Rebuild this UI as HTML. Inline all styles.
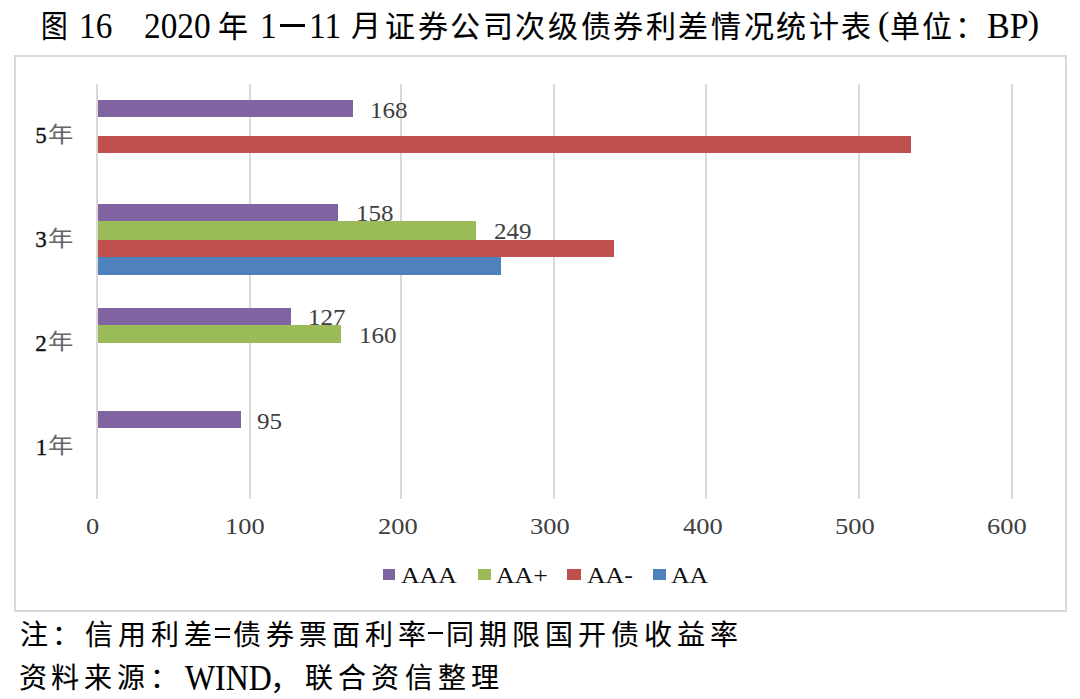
<!DOCTYPE html>
<html lang="zh-CN"><head><meta charset="utf-8">
<style>
html,body{margin:0;padding:0;background:#fff;}
body{width:1080px;height:699px;position:relative;overflow:hidden;font-family:"Liberation Serif",serif;}
div{position:absolute;white-space:nowrap;line-height:1;}
.frame{left:14px;top:55px;width:1049px;height:553px;border:2px solid #d9d9d9;}
.g{top:84px;height:415px;width:2px;background:#d9d9d9;}
.bar{left:98px;height:18px;}
.p{background:#8064a2}.gr{background:#9bbb59}.r{background:#c0504d}.b{background:#4f81bd}
.lbl{font-size:23px;color:#404040;transform:scaleX(1.09);transform-origin:0 0;}
.ax{font-size:23px;color:#404040;top:514.7px;transform:scaleX(1.15);transform-origin:0 0;}
.cat{font-size:23px;color:#111;-webkit-text-stroke:.35px #111;}
.cy{left:48px;font-size:22px;color:#666;transform:scaleX(1.15);transform-origin:0 0;}
.leg{top:564px;font-size:23px;color:#111;transform:scaleX(1.12);transform-origin:0 0;}
.sq{top:569.2px;height:11.2px;}
.tc{font-size:32px;color:#000;-webkit-text-stroke:.12px #000;}
.td{font-size:35px;color:#000;transform:scaleX(.95);transform-origin:0 0;top:9px}
.n{font-size:30px;color:#000;-webkit-text-stroke:.12px #000;}
</style></head><body>
<!-- title -->
<div class="tc" style="left:41px;top:11px;font-size:31px;transform:scaleX(.86);transform-origin:0 0">图</div>
<div class="td" style="left:78.5px">16</div>
<div class="td" style="left:144px">2020</div>
<div class="tc" style="left:218.4px;top:12px;font-size:30px">年</div>
<div class="td" style="left:260px">1</div>
<div style="left:280px;top:24px;width:25px;height:3px;background:#000"></div>
<div class="td" style="left:309px">11</div>
<div class="tc" style="left:350.8px;top:11.4px;font-size:30px">月</div>
<div class="tc" style="left:385px;top:12px;font-size:30px;letter-spacing:2.6px">证券公司次级债券利差情况统计表</div>
<div class="tc" style="left:877.9px;top:6.7px;font-size:34px">(</div>
<div class="tc" style="left:889.5px;top:12px;font-size:30px;letter-spacing:2.5px">单位：</div>
<div class="tc" style="left:986.5px;top:9px;font-size:35px;transform:scaleX(.97);transform-origin:0 0">BP</div>
<div class="tc" style="left:1027.7px;top:6.1px;font-size:34px">)</div>

<div class="frame"></div>
<div class="g" style="left:95.75px"></div>
<div class="g" style="left:248.5px"></div>
<div class="g" style="left:399.75px"></div>
<div class="g" style="left:552.6px"></div>
<div class="g" style="left:705.1px"></div>
<div class="g" style="left:857.7px"></div>
<div class="g" style="left:1010.5px"></div>
<!-- 5年 -->
<div class="bar p" style="top:100px;height:17px;width:255px"></div>
<div class="lbl" style="left:369.8px;top:98.5px">168</div>
<div class="bar r" style="top:136px;height:17px;width:813px"></div>
<!-- 3年 -->
<div class="bar p" style="top:204px;height:17px;width:240px"></div>
<div class="lbl" style="left:355.8px;top:202.1px">158</div>
<div class="bar gr" style="top:221px;height:19px;width:378px"></div>
<div class="lbl" style="left:493.9px;top:220.4px">249</div>
<div class="bar r" style="top:240px;height:17px;width:515.5px"></div>
<div class="bar b" style="top:257px;height:18px;width:403px"></div>
<!-- 2年 -->
<div class="bar p" style="top:308px;height:17px;width:192.5px"></div>
<div class="lbl" style="left:308.3px;top:305.7px">127</div>
<div class="bar gr" style="top:325px;height:18px;width:243px"></div>
<div class="lbl" style="left:358.8px;top:324.3px">160</div>
<!-- 1年 -->
<div class="bar p" style="top:411px;height:17px;width:143px"></div>
<div class="lbl" style="left:257px;top:409.5px">95</div>
<!-- categories -->
<div class="cat" style="left:35.3px;top:124.3px">5</div><div class="cy" style="top:123.7px">年</div>
<div class="cat" style="left:35.3px;top:228.1px">3</div><div class="cy" style="top:227.5px">年</div>
<div class="cat" style="left:35.3px;top:331.9px">2</div><div class="cy" style="top:331.3px">年</div>
<div class="cat" style="left:35.8px;top:435.7px">1</div><div class="cy" style="top:435.1px">年</div>
<!-- axis -->
<div class="ax" style="left:86.35px">0</div>
<div class="ax" style="left:224.8px">100</div>
<div class="ax" style="left:377.75px">200</div>
<div class="ax" style="left:530px">300</div>
<div class="ax" style="left:682.8px">400</div>
<div class="ax" style="left:835.15px">500</div>
<div class="ax" style="left:986.85px">600</div>
<!-- legend -->
<div class="sq p" style="left:382.5px;width:12.7px"></div><div class="leg" style="left:400.5px">AAA</div>
<div class="sq gr" style="left:477.5px;width:13px"></div><div class="leg" style="left:495.7px">AA+</div>
<div class="sq r" style="left:567.3px;width:14px"></div><div class="leg" style="left:587px">AA-</div>
<div class="sq b" style="left:652.6px;width:13px"></div><div class="leg" style="left:670.8px">AA</div>
<!-- notes -->
<div class="n" style="left:19.6px;top:622px;font-size:28px;letter-spacing:4.88px">注：信用利差</div>
<div style="left:215px;top:628px;width:15px;height:2px;background:#000"></div><div style="left:215px;top:635.5px;width:15px;height:2px;background:#000"></div>
<div class="n" style="left:232.7px;top:622px;font-size:28px;letter-spacing:5.06px">债券票面利率</div>
<div style="left:427.5px;top:632px;width:15.5px;height:2px;background:#000"></div>
<div class="n" style="left:446px;top:622px;font-size:28px;letter-spacing:5px">同期限国开债收益率</div>
<div class="n" style="left:18.6px;top:665px;font-size:28px;letter-spacing:4.9px">资料来源：</div>
<div class="n" style="left:184.5px;top:660.8px;font-size:35px;transform:scaleX(.91);transform-origin:0 0">WIND</div>
<div class="n" style="left:269.6px;top:664px">，</div>
<div class="n" style="left:305px;top:665px;font-size:28px;letter-spacing:5.2px">联合资信整理</div>
</body></html>
